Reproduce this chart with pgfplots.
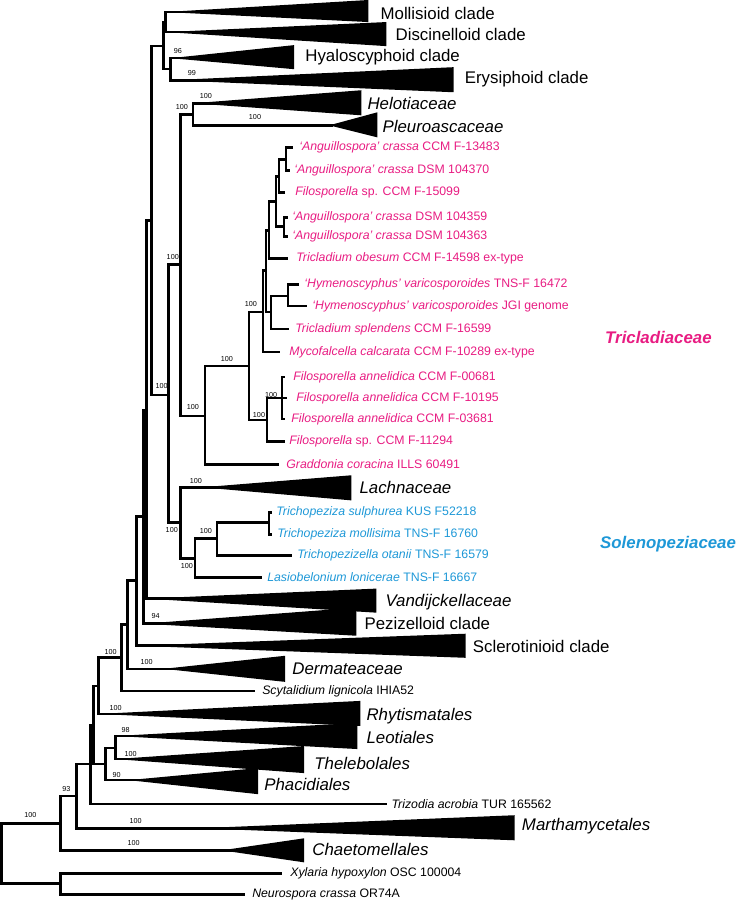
\documentclass[border=0pt]{standalone}
\usepackage{pgfplots}
\pgfplotsset{compat=1.18}
\usepackage{fontspec}
\setmainfont{Liberation Sans}
\definecolor{tpink}{RGB}{232,28,130}
\definecolor{tblue}{RGB}{30,152,215}
\tikzset{
  br/.style={black, line width=1.95pt, line join=miter, line cap=rect},
  tri/.style={fill=black, draw=none},
  bs/.style={font=\fontsize{5.4}{6}\selectfont, inner sep=0pt},
  cl/.style={anchor=west, font=\fontsize{12.6}{14}\selectfont, inner sep=0pt},
  tx/.style={anchor=west, font=\fontsize{9.2}{10}\selectfont, inner sep=0pt},
}
\begin{document}
\begin{tikzpicture}
\begin{axis}[
  width=553.5pt, height=675pt, scale only axis,
  xmin=0, xmax=738, ymin=0, ymax=900, y dir=reverse,
  hide axis, clip=false,
]
% ---------- collapsed clades (apex, right edge top, right edge bottom)
\addplot[tri] coordinates {(167,13)(369,1)(369,23)} -- cycle;   % Mollisioid
\addplot[tri] coordinates {(167,33)(387,23)(387,47)} -- cycle;  % Discinelloid
\addplot[tri] coordinates {(172,59)(295,46)(295,70)} -- cycle;  % Hyaloscyphoid
\addplot[tri] coordinates {(172,81)(454,68)(454,93)} -- cycle;  % Erysiphoid
\addplot[tri] coordinates {(194,104)(362,91)(362,116)} -- cycle; % Helotiaceae
\addplot[tri] coordinates {(330,126)(378,113)(378,138)} -- cycle; % Pleuroascaceae
\addplot[tri] coordinates {(203,487)(352,475)(352,500)} -- cycle; % Lachnaceae
\addplot[tri] coordinates {(148,598)(377,588)(377,612)} -- cycle; % Vandijckellaceae
\addplot[tri] coordinates {(145,623)(357,607)(357,635)} -- cycle; % Pezizelloid
\addplot[tri] coordinates {(138,645)(466,633)(466,657)} -- cycle; % Sclerotinioid
\addplot[tri] coordinates {(165,668)(286,655)(286,681)} -- cycle; % Dermateaceae
\addplot[tri] coordinates {(100,713)(361,700)(361,725)} -- cycle; % Rhytismatales
\addplot[tri] coordinates {(117,735)(358,722)(358,748)} -- cycle; % Leotiales
\addplot[tri] coordinates {(117,758)(305,745)(305,772)} -- cycle; % Thelebolales
\addplot[tri] coordinates {(130,779)(259,767)(259,793)} -- cycle; % Phacidiales
\addplot[tri] coordinates {(200,827)(515,814)(515,839)} -- cycle; % Marthamycetales
\addplot[tri] coordinates {(223,849)(305,837)(305,861)} -- cycle; % Chaetomellales
% ---------- branches
\addplot[br] coordinates {(250,13)(167,13)(167,33)(250,33)};
\addplot[br] coordinates {(220,59)(172,59)(172,81)(250,81)};
\addplot[br] coordinates {(167,23)(165,23)(165,70)(172,70)};
\addplot[br] coordinates {(165,47)(153,47)(153,395)(170,395)};
\addplot[br] coordinates {(182,265)(170,265)(170,522)(182,522)};
\addplot[br] coordinates {(194,115)(182,115)(182,416)(206,416)};
\addplot[br] coordinates {(250,104)(194,104)(194,126)(332,126)};
\addplot[br] coordinates {(250,366)(206,366)(206,464)(279,464)};
\addplot[br] coordinates {(264,312)(250,312)(250,420)(268,420)};
\addplot[br] coordinates {(267,271)(264,271)(264,352)(280,352)};
\addplot[br] coordinates {(270,231)(267,231)(267,312)(272,312)};
\addplot[br] coordinates {(277,202)(270,202)(270,259)(288,259)};
\addplot[br] coordinates {(280,177)(277,177)(277,227)(285,227)};
\addplot[br] coordinates {(287,160)(280,160)(280,193)(285,193)};
\addplot[br] coordinates {(293,148)(287,148)(287,171)(290,171)};
\addplot[br] coordinates {(288,218)(285,218)(285,237)(288,237)};
\addplot[br] coordinates {(289,296)(272,296)(272,329)(289,329)};
\addplot[br] coordinates {(299,285)(289,285)(289,306)(307,306)};
\addplot[br] coordinates {(283,398)(268,398)(268,441)(285,441)};
\addplot[br] coordinates {(285,377)(283,377)(283,419)(285,419)};
\addplot[br] coordinates {(283,398)(287,398)};
\addplot[br] coordinates {(230,487)(182,487)(182,558)(196,558)};
\addplot[br] coordinates {(218,538)(196,538)(196,577)(262,577)};
\addplot[br] coordinates {(270,522)(218,522)(218,555)(292,555)};
\addplot[br] coordinates {(272,512)(270,512)(270,534)(272,534)};
\addplot[br] coordinates {(153,221)(148,221)(148,598)(250,598)};
\addplot[br] coordinates {(148,410)(145,410)(145,623)(250,623)};
\addplot[br] coordinates {(145,516)(138,516)(138,645)(250,645)};
\addplot[br] coordinates {(138,580)(129,580)(129,668)(200,668)};
\addplot[br] coordinates {(129,624)(123,624)(123,690)(255,690)};
\addplot[br] coordinates {(123,657)(100,657)(100,713)(250,713)};
\addplot[br] coordinates {(100,685)(95,685)(95,763)(107,763)};
\addplot[br] coordinates {(200,735)(117,735)(117,758)(200,758)};
\addplot[br] coordinates {(117,747)(107,747)(107,779)(170,779)};
\addplot[br] coordinates {(95,724)(92,724)(92,803)(386,803)};
\addplot[br] coordinates {(92,763)(78,763)(78,827)(260,827)};
\addplot[br] coordinates {(78,795)(62,795)(62,849)(250,849)};
\addplot[br] coordinates {(282,872)(62,872)(62,893)(245,893)};
\addplot[br] coordinates {(62,822)(3,822)(3,882)(62,882)};
% ---------- clade labels
\node[cl] at (381,14) {Mollisioid clade};
\node[cl] at (396,35) {Discinelloid clade};
\node[cl] at (306,58) {Hyaloscyphoid clade};
\node[cl] at (465,80) {Erysiphoid clade};
\node[cl] at (368,104) {\itshape Helotiaceae};
\node[cl] at (383,127) {\itshape Pleuroascaceae};
\node[cl] at (360,487) {\itshape Lachnaceae};
\node[cl] at (386,602) {\itshape Vandijckellaceae};
\node[cl] at (365,623) {Pezizelloid clade};
\node[cl] at (473,646) {Sclerotinioid clade};
\node[cl] at (293,668) {\itshape Dermateaceae};
\node[cl] at (367,715) {\itshape Rhytismatales};
\node[cl] at (367,736) {\itshape Leotiales};
\node[cl] at (315,762) {\itshape Thelebolales};
\node[cl] at (265,783) {\itshape Phacidiales};
\node[cl] at (522,825) {\itshape Marthamycetales};
\node[cl] at (313,848) {\itshape Chaetomellales};
\node[cl, text=tpink] at (605,338) {\bfseries\itshape Tricladiaceae};
\node[cl, text=tblue] at (600,544) {\bfseries\itshape Solenopeziaceae};
% ---------- taxa
\begin{scope}[every node/.append style={text=tpink}]
\node[tx] at (300,148) {\textit{‘Anguillospora’ crassa} CCM F-13483};
\node[tx] at (295,171) {\textit{‘Anguillospora’ crassa} DSM 104370};
\node[tx] at (296,193) {\textit{Filosporella} sp. CCM F-15099};
\node[tx] at (293,218) {\textit{‘Anguillospora’ crassa} DSM 104359};
\node[tx] at (293,237) {\textit{‘Anguillospora’ crassa} DSM 104363};
\node[tx] at (297,259) {\textit{Tricladium obesum} CCM F-14598 ex-type};
\node[tx] at (305,285) {\textit{‘Hymenoscyphus’ varicosporoides} TNS-F 16472};
\node[tx] at (313,306) {\textit{‘Hymenoscyphus’ varicosporoides} JGI genome};
\node[tx] at (296,329) {\textit{Tricladium splendens} CCM F-16599};
\node[tx] at (290,352) {\textit{Mycofalcella calcarata} CCM F-10289 ex-type};
\node[tx] at (294,377) {\textit{Filosporella annelidica} CCM F-00681};
\node[tx] at (297,398) {\textit{Filosporella annelidica} CCM F-10195};
\node[tx] at (292,419) {\textit{Filosporella annelidica} CCM F-03681};
\node[tx] at (290,441) {\textit{Filosporella} sp. CCM F-11294};
\node[tx] at (287,464) {\textit{Graddonia coracina} ILLS 60491};
\end{scope}
\begin{scope}[every node/.append style={text=tblue}]
\node[tx] at (277,512) {\textit{Trichopeziza sulphurea} KUS F52218};
\node[tx] at (278,534) {\textit{Trichopeziza mollisima} TNS-F 16760};
\node[tx] at (298,555) {\textit{Trichopezizella otanii} TNS-F 16579};
\node[tx] at (268,577) {\textit{Lasiobelonium lonicerae} TNS-F 16667};
\end{scope}
\node[tx] at (263,690) {\textit{Scytalidium lignicola} IHIA52};
\node[tx] at (392,803) {\textit{Trizodia acrobia} TUR 165562};
\node[tx] at (291,872) {\textit{Xylaria hypoxylon} OSC 100004};
\node[tx] at (253,893) {\textit{Neurospora crassa} OR74A};
% ---------- support values
\node[bs] at (179,52) {96};
\node[bs] at (193,74) {99};
\node[bs] at (207,97) {100};
\node[bs] at (183,108) {100};
\node[bs] at (256,118) {100};
\node[bs] at (174,257) {100};
\node[bs] at (163,386) {100};
\node[bs] at (252,304) {100};
\node[bs] at (228,359) {100};
\node[bs] at (194,407) {100};
\node[bs] at (272,395) {100};
\node[bs] at (260,415) {100};
\node[bs] at (197,481) {100};
\node[bs] at (173,530) {100};
\node[bs] at (207,531) {100};
\node[bs] at (188,565) {100};
\node[bs] at (157,615) {94};
\node[bs] at (148,661) {100};
\node[bs] at (112,651) {100};
\node[bs] at (117,707) {100};
\node[bs] at (127,729) {98};
\node[bs] at (132,753) {100};
\node[bs] at (118,774) {90};
\node[bs] at (68,788) {93};
\node[bs] at (32,814) {100};
\node[bs] at (137,820) {100};
\node[bs] at (135,842) {100};
\end{axis}
\end{tikzpicture}
\end{document}
